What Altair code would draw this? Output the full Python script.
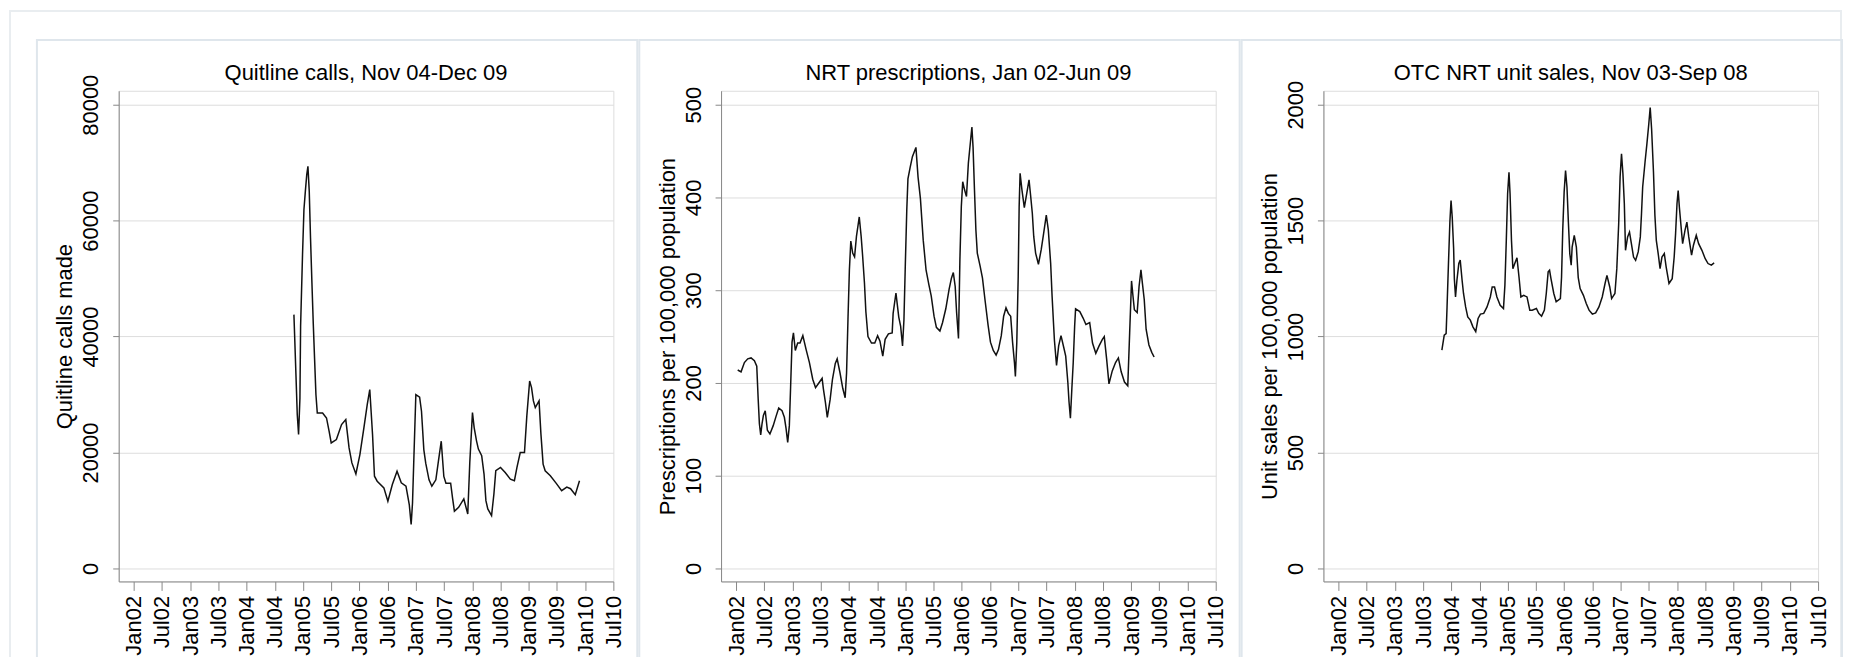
import altair as alt
import pandas as pd

FONT = "Liberation Sans"

# ---- x axis (months since Jan 2002 -> decimal years) ----
TICK_LABELS = ["Jan02", "Jul02", "Jan03", "Jul03", "Jan04", "Jul04", "Jan05", "Jul05",
               "Jan06", "Jul06", "Jan07", "Jul07", "Jan08", "Jul08", "Jan09", "Jul09",
               "Jan10", "Jul10"]
TICK_VALUES = [2002 + 0.5 * i for i in range(len(TICK_LABELS))]
X_DOMAIN = [2001.734, 2010.5]

# ---- Panel 1: Quitline calls ----
q_month = [34.07, 34.21, 34.5, 34.78, 35.06, 35.35, 35.49, 35.9, 36.2, 36.5, 36.8, 37.05,
           37.33, 37.6, 37.9, 38.18, 38.47, 38.75, 39.04, 40.17, 41.0, 41.56, 42.0, 43.1,
           44.2, 45.1, 45.8, 46.4, 47.25, 48.1, 48.95, 49.66, 50.2, 50.79, 51.2, 51.78,
           53.2, 54.05, 55.0, 56.0, 56.9, 57.9, 58.6, 59.0, 59.29, 59.57, 60.0, 60.8, 61.2,
           61.7, 62.1, 62.8, 63.4, 64.25, 64.8, 65.4, 65.95, 66.4, 67.4, 67.8, 68.2, 69.1,
           70.2, 71.04, 71.47, 72.04, 72.4, 72.9, 73.3, 74.0, 74.5, 74.9, 75.3, 76.1, 76.6,
           77.0, 78.0, 79.0, 80.1, 80.96, 81.5, 82.2, 83.1, 83.6, 84.2, 84.6, 85.0, 85.4,
           86.2, 86.6, 87.06, 87.5, 88.6, 89.9, 91.0, 92.1, 92.9, 93.9, 94.8]
q_calls = [43790, 40450, 33450, 26550, 23100, 29410, 41770, 54130, 61890, 65050, 67930, 69360,
           65050, 57000, 49240, 42340, 36030, 30000, 26830, 26830, 25960, 23660, 21660, 22240,
           24830, 25690, 20790, 18210, 16310, 19650, 24240, 28270, 30860, 23100, 15910, 15050,
           13900, 11600, 14480, 16770, 14770, 14200, 11030, 7590, 11300, 18790, 30000, 29540, 27120,
           20460, 18160, 15290, 14190, 15290, 18500, 21950, 15870, 14720, 14720, 12170, 9880, 10540,
           11990, 9400, 18290, 26890, 24300, 22020, 20590, 19440, 16290, 11700, 10270, 9120, 12850,
           16860, 17430, 16540, 15400, 15140, 17430, 20010, 20010, 26330, 32340, 31190, 28900, 27750,
           28900, 23170, 18000, 16850, 16000, 14630, 13420, 14050, 13760, 12730, 15140]

# ---- Panel 2: NRT prescriptions ----
rx_month = [0.35, 1.06, 1.77, 2.48, 3.19, 3.9, 4.4, 4.7, 4.96, 5.24, 5.52, 5.81, 6.2, 6.66,
            7.2, 7.9, 8.5, 9.07, 9.77, 10.27, 10.63, 10.98, 11.33, 11.6, 11.9, 12.2, 12.6,
            13.1, 13.6, 14.2, 14.9, 15.6, 16.3, 16.9, 17.6, 18.3, 18.56, 19.0, 19.4, 20.0,
            20.5, 21.1, 21.5, 22.1, 22.7, 23.2, 23.5, 23.8, 24.1, 24.4, 24.8, 25.2, 25.6,
            26.2, 26.6, 26.9, 27.3, 27.6, 28.05, 28.8, 29.5, 30.1, 30.6, 31.2, 31.7, 32.4,
            33.2, 33.4, 34.0, 34.6, 35.0, 35.4, 35.7, 36.0, 36.3, 36.55, 37.0, 37.5, 38.25,
            38.7, 39.2, 39.8, 40.4, 41.0, 41.5, 42.1, 42.6, 43.35, 43.9, 44.6, 45.3, 45.8,
            46.2, 46.6, 46.9, 47.3, 47.6, 47.9, 48.2, 48.6, 49.0, 49.4, 49.9, 50.15, 50.4,
            50.7, 51.0, 51.3, 51.9, 52.4, 53.0, 53.6, 54.1, 54.7, 55.3, 55.8, 56.4, 56.9,
            57.4, 57.9, 58.4, 58.8, 59.2, 59.4, 59.7, 60.0, 60.2, 60.4, 60.8, 61.3, 61.8,
            62.3, 62.6, 63.0, 63.3, 63.7, 64.3, 64.9, 65.4, 65.97, 66.4, 66.9, 67.2, 67.5,
            67.7, 68.15, 68.6, 69.1, 69.7, 70.1, 70.55, 70.8, 71.1, 71.4, 71.7, 72.0, 72.2,
            73.1, 73.8, 74.4, 75.2, 75.8, 76.5, 77.2, 77.9, 78.3, 78.8, 79.3, 80.0, 80.7,
            81.3, 81.9, 82.6, 83.3, 83.7, 84.1, 84.4, 84.7, 85.3, 85.7, 86.1, 86.4, 86.8,
            87.2, 87.8, 88.4, 88.9]
rx_rate = [214, 212, 222, 226, 227, 224, 218, 183, 156, 144, 156, 165, 170, 149,
           145, 154, 164, 173, 170, 163, 151, 136, 154, 196, 244, 254, 235,
           243, 243, 251, 236, 222, 204, 195, 200, 205, 194, 179, 163, 182,
           204, 221, 226, 211, 194, 184, 211, 269, 322, 353, 340, 336, 358,
           379, 358, 338, 308, 277, 250, 243, 243, 251, 245, 229, 247, 253,
           254, 275, 297, 271, 261, 240, 268, 329, 386, 420, 432, 444, 454,
           422, 399, 354, 322, 306, 294, 272, 260, 256, 265, 280, 301, 313,
           319, 304, 276, 248, 333, 390, 417, 408, 401, 437, 463, 476, 454,
           408, 365, 340, 326, 313, 287, 262, 244, 235, 230, 236, 251, 272,
           281, 275, 272, 244, 222, 207, 244, 315, 390, 426, 408, 389, 404,
           419, 404, 383, 358, 340, 328, 344, 361, 381, 365, 329, 294, 265,
           246, 219, 240, 251, 238, 229, 201, 180, 162, 193, 222, 261, 280,
           277, 270, 263, 265, 243, 232, 240, 247, 250, 226, 199, 213, 222,
           227, 212, 201, 197, 254, 310, 294, 279, 276, 304, 322, 308, 290,
           258, 241, 233, 228]

# ---- Panel 3: OTC NRT unit sales ----
otc_month = [22.0, 22.5, 22.9, 23.1, 23.4, 23.7, 23.95, 24.2, 24.5, 24.65, 24.9, 25.2, 25.6,
             25.9, 26.3, 26.6, 27.05, 27.5, 28.05, 28.6, 29.2, 29.7, 30.2, 30.9, 31.6, 32.3,
             32.7, 33.2, 33.7, 34.4, 35.1, 35.4, 35.7, 35.98, 36.27, 36.5, 36.8, 37.1, 37.5,
             37.97, 38.4, 38.8, 39.4, 40.1, 40.7, 41.2, 42.1, 42.6, 43.2, 43.8, 44.2, 44.6,
             44.9, 45.2, 45.8, 46.3, 47.2, 47.45, 47.7, 48.0, 48.3, 48.6, 48.9, 49.2, 49.5,
             49.7, 50.15, 50.6, 51.0, 51.4, 52.1, 52.7, 53.3, 54.0, 54.7, 55.4, 56.1, 56.7,
             57.1, 57.7, 58.1, 58.8, 59.2, 59.6, 59.9, 60.2, 60.5, 60.8, 61.05, 61.5, 61.9,
             62.3, 62.76, 63.2, 63.75, 64.2, 64.45, 64.7, 65.2, 65.6, 66.0, 66.3, 66.6, 67.0,
             67.3, 67.6, 68.0, 68.4, 68.8, 69.3, 69.7, 70.3, 70.98, 71.4, 71.7, 72.0, 72.25,
             72.5, 73.0, 73.2, 73.7, 74.1, 74.5, 75.1, 75.5, 76.1, 76.6, 77.3, 78.0, 78.6,
             79.3, 79.9]
otc_sales = [942, 1006, 1013, 1128, 1315, 1494, 1587, 1515, 1380, 1250, 1171, 1243, 1315,
             1330, 1243, 1186, 1128, 1085, 1071, 1042, 1021, 1078, 1097, 1100, 1128, 1171,
             1214, 1214, 1171, 1135, 1121, 1221, 1415, 1616, 1709, 1616, 1415, 1293, 1315,
             1340, 1257, 1171, 1178, 1171, 1114, 1114, 1121, 1100, 1088, 1114, 1186, 1279,
             1286, 1250, 1186, 1150, 1164, 1257, 1458, 1623, 1716, 1645, 1494, 1358, 1308,
             1386, 1437, 1386, 1254, 1207, 1178, 1143, 1114, 1097, 1102, 1128, 1171, 1229,
             1264, 1214, 1164, 1186, 1293, 1487, 1688, 1788, 1702, 1573, 1372, 1430, 1451,
             1401, 1343, 1329, 1365, 1430, 1530, 1645, 1752, 1831, 1917, 1988, 1895, 1709,
             1523, 1415, 1358, 1293, 1343, 1358, 1300, 1229, 1250, 1343, 1444, 1573, 1630,
             1559, 1444, 1401, 1458, 1494, 1430, 1351, 1394, 1437, 1401, 1372, 1336, 1315,
             1308, 1318]

W, H = 496, 492
BOX_COLOR = "#dfe6ec"
FRAME_COLOR = "#e9edf0"
label_expr = "[" + ",".join("'%s'" % s for s in TICK_LABELS) + "][round((datum.value - 2002) * 2)]"


def panel(months, values, title, ytitle, yticks, ydomain, outer=False):
    df = pd.DataFrame({"t": [2002 + m / 12.0 for m in months], "v": values})
    line = alt.Chart(df).mark_line(color="#111111", strokeWidth=1.5).encode(
        x=alt.X("t:Q",
                scale=alt.Scale(domain=X_DOMAIN, nice=False, zero=False),
                axis=alt.Axis(values=TICK_VALUES, labelExpr=label_expr, labelAngle=270,
                              grid=False, title=None, labelPadding=5, tickSize=9,
                              labelFontSize=22)),
        y=alt.Y("v:Q",
                scale=alt.Scale(domain=ydomain, nice=False, zero=False),
                axis=alt.Axis(values=yticks, format="d", grid=True, title=ytitle,
                              labelAngle=270, labelAlign="center", labelBaseline="bottom",
                              labelPadding=10, tickSize=6, titlePadding=3,
                              labelFontSize=22, titleFontSize=22,
                              titleFontWeight="normal")),
    )
    one = pd.DataFrame({"k": [0]})
    box = alt.Chart(one).mark_rect(
        fill="transparent", stroke=BOX_COLOR, strokeWidth=2
    ).encode(x=alt.value(-82), x2=alt.value(520), y=alt.value(-51), y2=alt.value(600))
    ttl = alt.Chart(pd.DataFrame({"k": [title]})).mark_text(
        font=FONT, fontSize=22, align="center", baseline="middle", color="black"
    ).encode(text="k:N", x=alt.value(W / 2), y=alt.value(-18))
    layers = [box, line, ttl]
    if outer:
        frame = alt.Chart(one).mark_rect(
            fill="transparent", stroke=FRAME_COLOR, strokeWidth=2
        ).encode(x=alt.value(-109), x2=alt.value(1727), y=alt.value(-80), y2=alt.value(640))
        layers = [frame] + layers
    return alt.layer(*layers).properties(width=W, height=H)


p1 = panel(q_month, q_calls, "Quitline calls, Nov 04-Dec 09", "Quitline calls made",
           [0, 20000, 40000, 60000, 80000], [-2237, 82409], outer=True)
p2 = panel(rx_month, rx_rate, "NRT prescriptions, Jan 02-Jun 09",
           "Prescriptions per 100,000 population", [0, 100, 200, 300, 400, 500], [-13.98, 515.06])
p3 = panel(otc_month, otc_sales, "OTC NRT unit sales, Nov 03-Sep 08",
           "Unit sales per 100,000 population", [0, 500, 1000, 1500, 2000], [-55.9, 2060.2])

chart = alt.hconcat(p1, p2, p3, spacing=108, bounds="flush").properties(
    padding={"left": 0, "top": 0, "right": 0, "bottom": 0}
).configure_view(strokeWidth=0).configure_axis(
    domainColor="black", tickColor="black", labelColor="black", titleColor="black",
    labelFont=FONT, titleFont=FONT, titleFontWeight="normal",
    gridColor="#e6e6e6", gridWidth=1.5, domainWidth=1.5, tickWidth=1.5,
).configure(background="white")

chart.save("out.html", embed_options={"renderer": "svg", "actions": False})
